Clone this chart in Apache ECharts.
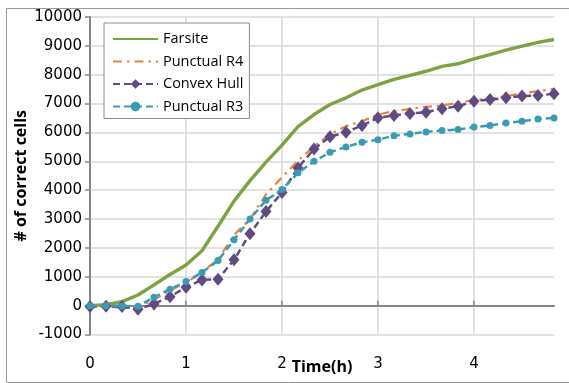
<!DOCTYPE html>
<html>
<head>
<meta charset="utf-8">
<script src="https://cdn.jsdelivr.net/npm/echarts@6/dist/echarts.min.js"></script>
<style>
html,body{margin:0;padding:0;background:#fff;}
#c{width:569px;height:383px;}
</style>
</head>
<body>
<div id="c"></div>
<script>
// time in minutes (one point every 10 minutes)
var timeMin = [0,10,20,30,40,50,60,70,80,90,100,110,120,130,140,150,160,170,180,190,200,210,220,230,240,250,260,270,280,290];
var hourLabels = ['0','1','2','3','4'];

var farsite = [0,30,140,370,720,1080,1410,1900,2750,3620,4330,4970,5560,6200,6620,6970,7200,7470,7660,7840,7980,8120,8290,8380,8550,8700,8850,8990,9120,9220];
var punctualR4 = [0,-20,-80,-60,200,530,790,1160,1600,2450,3000,3850,4450,5020,5520,5930,6220,6390,6620,6740,6820,6890,6930,7030,7120,7170,7260,7350,7430,7510];
var convexHull = [-30,-20,-30,-125,60,310,640,890,915,1590,2490,3260,3920,4770,5430,5850,6010,6240,6510,6590,6660,6700,6820,6910,7080,7140,7200,7260,7280,7340];
var punctualR3 = [0,0,-10,-20,290,570,835,1150,1560,2280,3000,3650,4020,4600,5000,5310,5500,5660,5750,5890,5950,6020,6070,6100,6190,6240,6330,6390,6470,6500];

var chart = echarts.init(document.getElementById('c'), null, {renderer:'canvas'});
var AX = '#868686', GRID = '#d9d9d9';
var cats = timeMin.map(String);

chart.setOption({
  animation:false,
  backgroundColor:'#ffffff',
  graphic:[{type:'rect', left:4, top:6, shape:{width:600, height:374}, style:{fill:null, stroke:'#9a9a9a', lineWidth:1}, z:-10}],
  grid:{left:90, right:15, top:17, bottom:48.5, containLabel:false, outerBoundsMode:'none'},
  legend:{
    orient:'vertical', left:104, top:23,
    backgroundColor:'#fff', borderColor:'#8c8c8c', borderWidth:1,
    padding:[7,6,3,8], itemWidth:45, itemHeight:12, itemGap:4.5,
    textStyle:{fontFamily:'Open Sans', fontSize:14.5, color:'#000', lineHeight:18},
    data:[
      {name:'Farsite', itemStyle:{opacity:0}},
      {name:'Punctual R4', itemStyle:{opacity:0}},
      {name:'Convex Hull'},
      {name:'Punctual R3'}
    ]
  },
  xAxis:[{
    type:'category', data:cats, boundaryGap:false, position:'bottom',
    axisLine:{show:false, onZero:false}, axisTick:{show:false},
    axisLabel:{interval:5, margin:22, fontFamily:'DejaVu Sans', fontSize:15, color:'#000',
      formatter:function(v, i){ return hourLabels[i/6]; }},
    splitLine:{show:true, interval:5, lineStyle:{color:GRID, width:1.5}},
    name:'Time(h)', nameLocation:'middle', nameGap:25, nameMoveOverlap:false,
    nameTextStyle:{fontFamily:'Open Sans', fontWeight:'bold', fontSize:16, color:'#000'}
  },{
    type:'category', data:cats, boundaryGap:false, position:'bottom',
    axisLine:{show:true, onZero:true, lineStyle:{color:AX, width:2}},
    axisTick:{show:true, interval:5, inside:true, length:5, lineStyle:{color:AX, width:1.5}},
    axisLabel:{show:false}, splitLine:{show:false}
  }],
  yAxis:{
    type:'value', min:-1000, max:10000, interval:1000,
    axisLine:{show:true, lineStyle:{color:AX, width:2}},
    axisTick:{show:true, length:5, lineStyle:{color:AX, width:1.5}},
    axisLabel:{fontFamily:'DejaVu Sans', fontSize:15, color:'#000', margin:8,
      formatter:function(v){ return String(v); }},
    splitLine:{show:true, lineStyle:{color:GRID, width:1.5}},
    name:'# of correct cells', nameLocation:'middle', nameGap:61, nameRotate:90, nameMoveOverlap:false,
    nameTextStyle:{fontFamily:'Open Sans', fontWeight:'bold', fontSize:16, color:'#000'}
  },
  series:[
    {name:'Farsite', type:'line', data:farsite, xAxisIndex:0, symbol:'none', showSymbol:false,
     color:'#7da241', lineStyle:{color:'#7da241', width:3.4}, z:3},
    {name:'Punctual R4', type:'line', data:punctualR4, xAxisIndex:0, symbol:'none', showSymbol:false,
     color:'#e8843a', lineStyle:{color:'#e8843a', width:2.2, type:[9,5,2.5,5]}, z:4},
    {name:'Convex Hull', type:'line', data:convexHull, xAxisIndex:0, symbol:'diamond', symbolSize:[11,13], showSymbol:true, showAllSymbol:true,
     color:'#5f4b82', itemStyle:{color:'#5f4b82'}, lineStyle:{color:'#5f4b82', width:2.5, type:[7,4]}, z:5},
    {name:'Punctual R3', type:'line', data:punctualR3, xAxisIndex:0, symbol:'circle', symbolSize:7, showSymbol:true, showAllSymbol:true,
     color:'#3a9cb3', itemStyle:{color:'#3a9cb3'}, lineStyle:{color:'#3a9cb3', width:2.5, type:[7,4]}, z:6}
  ]
});
</script>
</body>
</html>
